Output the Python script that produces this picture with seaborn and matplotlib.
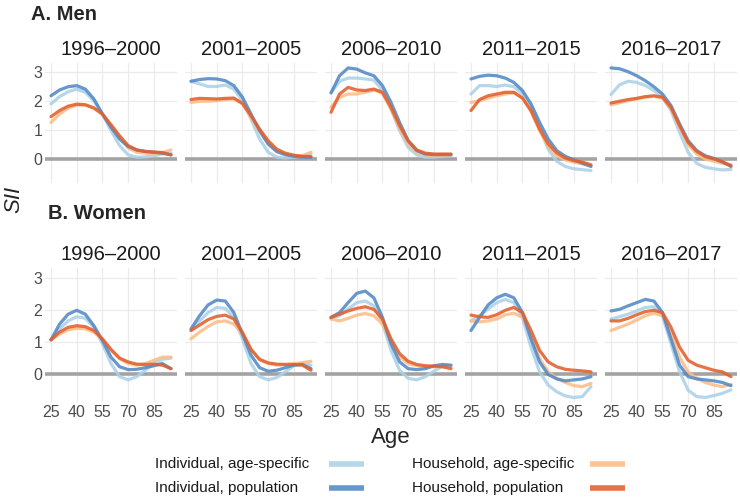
import numpy as np
import pandas as pd
import seaborn as sns
import matplotlib.pyplot as plt
from matplotlib.lines import Line2D

ages = [25, 30, 35, 40, 45, 50, 55, 60, 65, 70, 75, 80, 85, 90, 95]
periods = ["1996–2000", "2001–2005", "2006–2010", "2011–2015", "2016–2017"]
measures = ["Individual, age-specific", "Individual, population",
            "Household, age-specific", "Household, population"]

# Men, one list per period
men_ind_age = [
    [1.90, 2.15, 2.32, 2.41, 2.30, 2.00, 1.55, 0.98, 0.46, 0.14, 0.06, 0.07, 0.11, 0.17, 0.20],
    [2.68, 2.59, 2.50, 2.50, 2.55, 2.41, 2.01, 1.38, 0.69, 0.23, 0.06, 0.03, 0.06, 0.09, 0.17],
    [2.28, 2.68, 2.79, 2.79, 2.76, 2.72, 2.36, 1.72, 0.98, 0.40, 0.14, 0.06, 0.06, 0.09, 0.11],
    [2.24, 2.53, 2.53, 2.50, 2.55, 2.49, 2.24, 1.78, 1.09, 0.34, -0.08, -0.26, -0.34, -0.37, -0.40],
    [2.22, 2.56, 2.68, 2.64, 2.53, 2.36, 2.13, 1.67, 0.92, 0.23, -0.15, -0.29, -0.34, -0.38, -0.36],
]
men_ind_pop = [
    [2.18, 2.38, 2.49, 2.53, 2.41, 2.07, 1.55, 1.09, 0.69, 0.43, 0.31, 0.26, 0.23, 0.20, 0.14],
    [2.68, 2.74, 2.77, 2.76, 2.70, 2.53, 2.13, 1.55, 0.98, 0.52, 0.26, 0.15, 0.09, 0.07, 0.06],
    [2.28, 2.87, 3.14, 3.10, 2.97, 2.87, 2.53, 1.95, 1.26, 0.63, 0.29, 0.17, 0.15, 0.15, 0.15],
    [2.76, 2.85, 2.89, 2.87, 2.79, 2.64, 2.36, 1.90, 1.26, 0.69, 0.29, 0.09, -0.03, -0.15, -0.26],
    [3.14, 3.11, 3.01, 2.87, 2.70, 2.49, 2.24, 1.84, 1.21, 0.63, 0.29, 0.11, 0.02, -0.11, -0.23],
]
men_hh_age = [
    [1.26, 1.55, 1.75, 1.86, 1.86, 1.75, 1.53, 1.15, 0.72, 0.38, 0.23, 0.20, 0.17, 0.22, 0.31],
    [1.95, 1.99, 1.99, 2.01, 2.05, 2.07, 1.90, 1.44, 0.95, 0.52, 0.25, 0.14, 0.09, 0.11, 0.23],
    [1.78, 2.13, 2.24, 2.24, 2.30, 2.38, 2.26, 1.72, 1.06, 0.52, 0.23, 0.14, 0.11, 0.11, 0.14],
    [1.95, 2.01, 2.10, 2.18, 2.24, 2.28, 2.10, 1.64, 0.98, 0.43, 0.11, -0.03, -0.11, -0.17, -0.23],
    [1.87, 1.94, 2.01, 2.07, 2.13, 2.16, 2.10, 1.72, 1.09, 0.49, 0.17, 0.00, -0.08, -0.15, -0.20],
]
men_hh_pop = [
    [1.46, 1.67, 1.82, 1.89, 1.87, 1.76, 1.55, 1.18, 0.80, 0.46, 0.31, 0.26, 0.24, 0.22, 0.14],
    [2.05, 2.09, 2.08, 2.07, 2.09, 2.10, 1.92, 1.49, 1.03, 0.63, 0.34, 0.20, 0.13, 0.09, 0.08],
    [1.61, 2.24, 2.47, 2.38, 2.36, 2.41, 2.30, 1.78, 1.15, 0.63, 0.31, 0.20, 0.17, 0.17, 0.17],
    [1.67, 2.05, 2.18, 2.24, 2.30, 2.30, 2.10, 1.67, 1.03, 0.52, 0.21, 0.03, -0.06, -0.11, -0.20],
    [1.93, 1.99, 2.05, 2.09, 2.15, 2.18, 2.13, 1.78, 1.15, 0.57, 0.26, 0.08, 0.00, -0.09, -0.26],
]

# Women, one list per period
women_ind_age = [
    [1.07, 1.41, 1.66, 1.79, 1.74, 1.46, 0.95, 0.33, -0.08, -0.18, -0.08, 0.12, 0.33, 0.46, 0.50],
    [1.36, 1.66, 1.92, 2.08, 2.05, 1.77, 1.10, 0.33, -0.08, -0.18, -0.11, 0.07, 0.26, 0.33, 0.28],
    [1.74, 1.82, 2.03, 2.23, 2.28, 2.13, 1.61, 0.74, 0.12, -0.13, -0.18, -0.08, 0.09, 0.25, 0.26],
    [1.66, 1.82, 2.03, 2.23, 2.33, 2.23, 1.77, 0.84, 0.07, -0.34, -0.55, -0.68, -0.73, -0.70, -0.39],
    [1.72, 1.79, 1.87, 1.97, 2.08, 2.10, 1.82, 0.95, 0.07, -0.50, -0.70, -0.73, -0.67, -0.60, -0.49],
]
women_ind_pop = [
    [1.07, 1.56, 1.87, 1.99, 1.87, 1.51, 1.05, 0.53, 0.23, 0.14, 0.15, 0.20, 0.26, 0.33, 0.17],
    [1.41, 1.82, 2.16, 2.31, 2.28, 1.92, 1.25, 0.59, 0.20, 0.09, 0.12, 0.20, 0.28, 0.30, 0.17],
    [1.77, 1.92, 2.23, 2.52, 2.59, 2.38, 1.77, 0.95, 0.38, 0.17, 0.14, 0.17, 0.26, 0.30, 0.28],
    [1.36, 1.77, 2.16, 2.38, 2.49, 2.38, 1.92, 1.10, 0.38, -0.01, -0.15, -0.21, -0.18, -0.15, -0.08],
    [1.97, 2.02, 2.13, 2.23, 2.33, 2.28, 1.92, 1.10, 0.28, -0.08, -0.15, -0.18, -0.21, -0.26, -0.36],
]
women_hh_age = [
    [1.07, 1.25, 1.38, 1.43, 1.41, 1.31, 1.08, 0.74, 0.48, 0.33, 0.28, 0.33, 0.43, 0.53, 0.53],
    [1.10, 1.31, 1.49, 1.63, 1.66, 1.56, 1.25, 0.77, 0.45, 0.33, 0.28, 0.30, 0.33, 0.36, 0.40],
    [1.72, 1.66, 1.74, 1.84, 1.89, 1.82, 1.56, 1.00, 0.53, 0.33, 0.26, 0.23, 0.23, 0.23, 0.23],
    [1.66, 1.63, 1.66, 1.72, 1.85, 1.90, 1.77, 1.20, 0.48, 0.07, -0.13, -0.26, -0.36, -0.39, -0.29],
    [1.36, 1.46, 1.56, 1.69, 1.82, 1.90, 1.82, 1.25, 0.53, 0.07, -0.13, -0.26, -0.34, -0.39, -0.32],
]
women_hh_pop = [
    [1.07, 1.31, 1.46, 1.51, 1.48, 1.36, 1.10, 0.77, 0.50, 0.38, 0.31, 0.30, 0.31, 0.28, 0.17],
    [1.36, 1.53, 1.70, 1.80, 1.84, 1.72, 1.30, 0.77, 0.46, 0.35, 0.31, 0.30, 0.30, 0.28, 0.12],
    [1.77, 1.87, 1.97, 2.05, 2.10, 2.02, 1.72, 1.10, 0.64, 0.40, 0.30, 0.26, 0.25, 0.23, 0.17],
    [1.84, 1.79, 1.77, 1.85, 1.99, 2.08, 1.92, 1.36, 0.74, 0.38, 0.23, 0.15, 0.12, 0.10, 0.07],
    [1.66, 1.66, 1.74, 1.85, 1.95, 1.99, 1.92, 1.46, 0.84, 0.43, 0.28, 0.20, 0.12, 0.07, -0.08],
]

colors = {
    "Individual, age-specific": "#acd1e8",
    "Individual, population": "#5289c6",
    "Household, age-specific": "#fdbc86",
    "Household, population": "#e2602f",
}
# drawing order: light curves underneath
draw_order = ["Individual, age-specific", "Household, age-specific",
              "Individual, population", "Household, population"]

# long-form table
rows = []
groups = {
    "Men": [men_ind_age, men_ind_pop, men_hh_age, men_hh_pop],
    "Women": [women_ind_age, women_ind_pop, women_hh_age, women_hh_pop],
}
for sex, series in groups.items():
    for m, vals in zip(measures, series):
        for p, period in enumerate(periods):
            for a, v in zip(ages, vals[p]):
                rows.append({"sex": sex, "period": period, "measure": m, "age": a, "sii": v})
df = pd.DataFrame(rows)

sns.set_theme(style="whitegrid")
plt.rcParams["font.family"] = ["Liberation Sans", "DejaVu Sans"]

W, H = 740, 500
fig = plt.figure(figsize=(7.4, 5.0), dpi=100)

row_specs = {
    "Men": dict(top=63, bottom=183, ylim=(-0.83, 3.31)),
    "Women": dict(top=268, bottom=402, ylim=(-0.87, 3.31)),
}

for sex, spec in row_specs.items():
    for i, period in enumerate(periods):
        left = 45 + i * 140
        ax = fig.add_axes([left / W, 1 - spec["bottom"] / H, 132 / W,
                           (spec["bottom"] - spec["top"]) / H])
        sub = df[(df["sex"] == sex) & (df["period"] == period)]
        ax.axhline(0, color="#a3a3a3", lw=2.6, zorder=1)
        sns.lineplot(data=sub, x="age", y="sii", hue="measure", hue_order=draw_order,
                     palette=colors, legend=False, lw=2.3, alpha=0.88, ax=ax, zorder=3)
        ax.set_xlim(21.5, 98.5)
        ax.set_ylim(*spec["ylim"])
        ax.set_xticks([25, 40, 55, 70, 85])
        ax.set_yticks([0, 1, 2, 3])
        ax.grid(True, color="#ebebeb", lw=0.9)
        ax.set_facecolor("white")
        for s in ax.spines.values():
            s.set_visible(False)
        ax.tick_params(length=0, labelsize=11.5, labelcolor="#4d4d4d", pad=2)
        ax.set_xlabel("")
        ax.set_ylabel("")
        ax.set_title(period, fontsize=14.5, color="#1a1a1a", pad=6)
        if sex == "Men":
            ax.set_xticklabels([])
        if i > 0:
            ax.set_yticklabels([])

fig.text(31 / W, 1 - 14 / H, "A. Men", fontsize=14.5, fontweight="bold", va="center", ha="left")
fig.text(48 / W, 1 - 214 / H, "B. Women", fontsize=14.5, fontweight="bold", va="center", ha="left")
fig.text(14 / W, 1 - 199 / H, "SII", fontsize=16, fontstyle="italic", rotation=90,
         va="center", ha="center")
fig.text(391 / W, 1 - 437 / H, "Age", fontsize=16, va="center", ha="center")

# legend: labels left-aligned, key to the right of each column
legend_cols = [(155, 329), (412, 590)]
legend_rows = [464, 488]
for k, m in enumerate(measures):
    tx, kx = legend_cols[k // 2]
    ky = 1 - legend_rows[k % 2] / H
    fig.text(tx / W, ky, m, fontsize=11, va="center", ha="left", color="#1a1a1a")
    fig.add_artist(Line2D([kx / W, (kx + 35) / W], [ky, ky], transform=fig.transFigure,
                          color=colors[m], lw=4, alpha=0.88, solid_capstyle="butt"))

fig.savefig("out.png", dpi=100)
